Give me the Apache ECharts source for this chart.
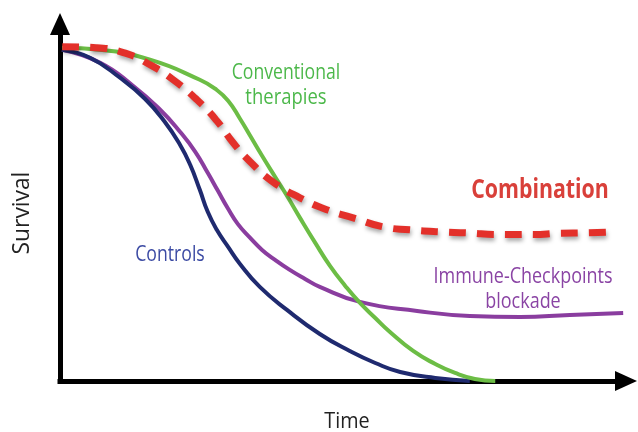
<!DOCTYPE html>
<html>
<head>
<meta charset="utf-8">
<script src="https://cdn.jsdelivr.net/npm/echarts@6/dist/echarts.min.js"></script>
<style>
html,body{margin:0;padding:0;background:#fff;}
#chart{width:638px;height:432px;}
</style>
</head>
<body>
<div id="chart"></div>
<script>
// Time (0-100) and survival (%)
const controls = [
  [0.35, 99.3], [5.3, 96.9], [10.6, 90.9], [15.0, 84.6], [18.5, 77.7], [21.2, 70.8],
  [23.0, 64.8], [24.7, 57.3], [26.1, 50.7], [27.7, 45.3], [29.7, 40.2], [31.8, 35.1],
  [35.3, 28.2], [40.1, 21.3], [45.9, 14.1], [51.2, 9.0], [55.7, 5.4], [60.1, 2.7],
  [66.3, 0.9], [72.4, 0]
];
const immune = [
  [0.35, 99.3], [7.1, 95.4], [12.9, 88.5], [17.7, 81.3], [21.2, 74.7], [23.9, 68.7],
  [26.1, 62.4], [27.9, 57.0], [29.7, 51.6], [31.4, 47.1], [33.6, 42.9], [35.7, 39.3],
  [38.0, 36.3], [40.6, 33.3], [43.3, 30.6], [45.9, 28.2], [53.0, 23.7], [63.1, 21.0],
  [72.4, 19.5], [81.3, 19.2], [90.1, 19.8], [99.5, 20.4]
];
const conventional = [
  [0.35, 99.9], [7.1, 99.3], [15.9, 96.3], [24.7, 90.3], [27.4, 87.6], [29.7, 84.0],
  [31.8, 78.6], [33.6, 73.5], [35.7, 67.5], [38.0, 61.2], [40.1, 55.5], [42.4, 48.9],
  [45.1, 41.4], [47.7, 34.5], [50.4, 28.5], [53.0, 23.4], [55.7, 18.9], [58.3, 14.7],
  [62.4, 9.0], [66.3, 5.1], [69.8, 2.4], [73.3, 0.6], [76.9, 0]
];
const combination = [
  [0.4, 100.2], [6.5, 99.9], [11.8, 98.1], [15.9, 94.8], [20.0, 90.3], [24.2, 84.3],
  [27.7, 78.0], [30.6, 71.4], [33.6, 65.7], [37.6, 59.7], [42.4, 54.9], [47.2, 51.3],
  [51.8, 48.9], [57.1, 46.2], [61.8, 45.3], [67.1, 44.7], [71.9, 44.4], [77.7, 43.9],
  [83.6, 43.9], [88.3, 44.3], [93.1, 44.4], [98.1, 44.7]
];
const axisNames = { x: 'Time', y: 'Survival' };
const labels = {
  conventional: ['Conventional', 'therapies'],
  combination: ['Combination'],
  immune: ['Immune-Checkpoints', 'blockade'],
  controls: ['Controls']
};

const sans = "'Open Sans', sans-serif";
const chart = echarts.init(document.getElementById('chart'), null, { renderer: 'canvas' });

function textEl(str, x, y, size, color, weight, sx) {
  return {
    type: 'text', x: x, y: y, scaleX: sx, silent: true,
    style: { text: str, fill: color, fontSize: size, fontWeight: weight || 'normal',
             fontFamily: sans, align: 'center', verticalAlign: 'middle' }
  };
}

const axisLine = {
  show: true,
  symbol: ['none', 'triangle'],
  symbolSize: [20, 22],
  lineStyle: { color: '#000', width: 5, cap: 'square' }
};

function curve(name, data, color, width, z, extra) {
  return {
    name: name, type: 'line', data: data, smooth: 0.5, symbol: 'none',
    lineStyle: Object.assign({ color: color, width: width }, extra || {}), z: z
  };
}

chart.setOption({
  animation: false,
  backgroundColor: '#fff',
  grid: { left: 60, right: 12, top: 24, bottom: 51 },
  xAxis: {
    type: 'value', min: 0, max: 100,
    axisLine: axisLine, axisTick: { show: false }, axisLabel: { show: false }, splitLine: { show: false }
  },
  yAxis: {
    type: 'value', min: 0, max: 107,
    axisLine: axisLine, axisTick: { show: false }, axisLabel: { show: false }, splitLine: { show: false }
  },
  series: [
    curve('Immune-Checkpoints blockade', immune, '#8a3d9f', 4, 2),
    curve('Controls', controls, '#1f2a6f', 4, 3),
    curve('Conventional therapies', conventional, '#6cbd45', 4, 4),
    curve('Combination', combination, '#e3302a', 7, 5, {
      type: [17, 11], cap: 'butt',
      shadowColor: 'rgba(0,0,0,0.35)', shadowBlur: 4, shadowOffsetX: 1, shadowOffsetY: 3
    })
  ],
  graphic: [
    textEl(labels.conventional[0], 286, 73, 21, '#4cb84a', 'normal', 0.84),
    textEl(labels.conventional[1], 286, 98, 21, '#4cb84a', 'normal', 0.88),
    textEl(labels.combination[0], 540, 191, 26, '#d9403a', 'bold', 0.82),
    textEl(labels.immune[0], 523, 277, 21, '#8a44a4', 'normal', 0.855),
    textEl(labels.immune[1], 523, 302, 21, '#8a44a4', 'normal', 0.855),
    textEl(labels.controls[0], 170, 255, 21, '#3b4aa3', 'normal', 0.84),
    textEl(axisNames.x, 347, 422, 22, '#222', 'normal', 0.9),
    Object.assign(textEl(axisNames.y, 22, 213, 24, '#222', 'normal', 0.95), { rotation: Math.PI / 2 })
  ]
});
</script>
</body>
</html>
